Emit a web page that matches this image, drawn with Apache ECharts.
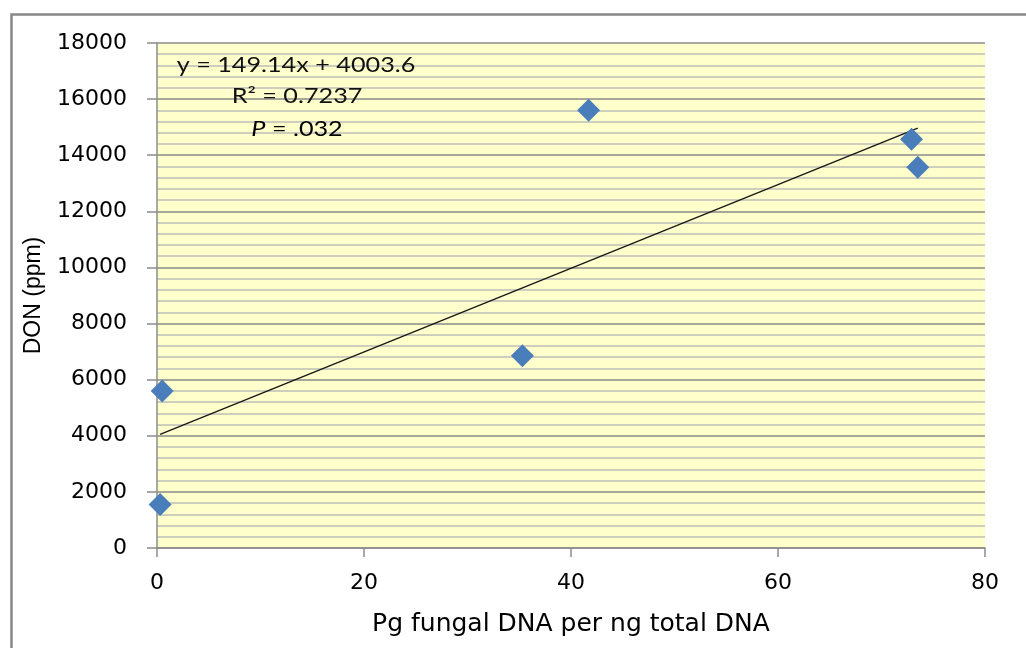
<!DOCTYPE html>
<html>
<head>
<meta charset="utf-8">
<script src="https://cdn.jsdelivr.net/npm/echarts@6/dist/echarts.min.js"></script>
<style>
html,body{margin:0;padding:0;background:#fff;}
#chart{width:1026px;height:648px;}
</style>
</head>
<body>
<div id="chart"></div>
<script>
// Data
const xValues = [0.3, 0.5, 35.3, 41.7, 72.9, 73.5];
const yValues = [1550, 5600, 6850, 15600, 14570, 13570];
const trendSlope = 149.14;
const trendIntercept = 4003.6;
const equationLines = ['y = 149.14x + 4003.6', 'R² = 0.7237'];
const pLabel = ['P', ' = .032'];
const xTicks = [0, 20, 40, 60, 80];
const yTicks = [0, 2000, 4000, 6000, 8000, 10000, 12000, 14000, 16000, 18000];

const scatterData = xValues.map((x, i) => [x, yValues[i]]);
const xMin = Math.min(...xValues), xMax = Math.max(...xValues);
const trendData = [[xMin, trendIntercept + trendSlope * xMin], [xMax, trendIntercept + trendSlope * xMax]];

const chart = echarts.init(document.getElementById('chart'));
const axisFont = 'DejaVu Sans';
const eqFont = 'Lato';
const eqScale = 1.2;
chart.setOption({
  animation: false,
  backgroundColor: '#ffffff',
  grid: {left: 157, right: 41, top: 43, bottom: 100, show: true, backgroundColor: '#FFFFCC', borderWidth: 0},
  xAxis: {
    type: 'value', min: xTicks[0], max: xTicks[xTicks.length - 1], interval: 20,
    name: 'Pg fungal DNA per ng total DNA', nameLocation: 'middle', nameGap: 64,
    nameTextStyle: {fontFamily: axisFont, fontSize: 25, color: '#000'},
    axisLine: {show: true, lineStyle: {color: '#8c8c8c', width: 1.5}},
    axisTick: {show: true, length: 9, lineStyle: {color: '#8c8c8c', width: 1.5}},
    axisLabel: {fontFamily: axisFont, fontSize: 22, color: '#000', margin: 24, formatter: v => String(v)},
    splitLine: {show: false}
  },
  yAxis: {
    type: 'value', min: yTicks[0], max: yTicks[yTicks.length - 1], interval: 2000,
    name: 'DON (ppm)', nameLocation: 'middle', nameGap: 112, nameRotate: 90,
    nameTextStyle: {fontFamily: 'Liberation Sans', fontSize: 23, color: '#000'},
    axisLine: {show: true, lineStyle: {color: '#8c8c8c', width: 1.5}},
    axisTick: {show: true, length: 10, lineStyle: {color: '#8c8c8c', width: 1.5}},
    axisLabel: {fontFamily: axisFont, fontSize: 22, color: '#000', margin: 30, formatter: v => String(v)},
    splitLine: {show: true, lineStyle: {color: '#8a8a8a', width: 1.5}},
    minorTick: {show: false, splitNumber: 5},
    minorSplitLine: {show: true, lineStyle: {color: '#bfbfb7', width: 1.5}}
  },
  series: [
    {
      type: 'line', data: trendData, symbol: 'none', silent: true,
      lineStyle: {color: '#1a1a1a', width: 1.5}, z: 2
    },
    {
      type: 'scatter', data: scatterData, symbol: 'diamond', symbolSize: 23,
      itemStyle: {color: '#4A7EBB', opacity: 1}, z: 3
    }
  ],
  graphic: [
    {type: 'rect', left: 9, top: 12, shape: {width: 1100, height: 700}, style: {fill: 'none', stroke: '#888', lineWidth: 2.5}, silent: true, z: 100},
    {type: 'text', x: 296, y: 65, scaleX: eqScale, style: {text: equationLines[0], font: '21px ' + eqFont, fill: '#111', textAlign: 'center', textVerticalAlign: 'middle'}, z: 101},
    {type: 'text', x: 297, y: 96, scaleX: eqScale, style: {text: equationLines[1], font: '21px ' + eqFont, fill: '#111', textAlign: 'center', textVerticalAlign: 'middle'}, z: 101},
    {type: 'text', x: 297, y: 129, scaleX: eqScale, style: {
      text: '{i|' + pLabel[0] + '}{n|' + pLabel[1] + '}', textAlign: 'center', textVerticalAlign: 'middle',
      rich: {i: {fontFamily: eqFont, fontSize: 21, fontStyle: 'italic', color: '#111'}, n: {fontFamily: eqFont, fontSize: 21, color: '#111'}}
    }, z: 101}
  ]
});
</script>
</body>
</html>
